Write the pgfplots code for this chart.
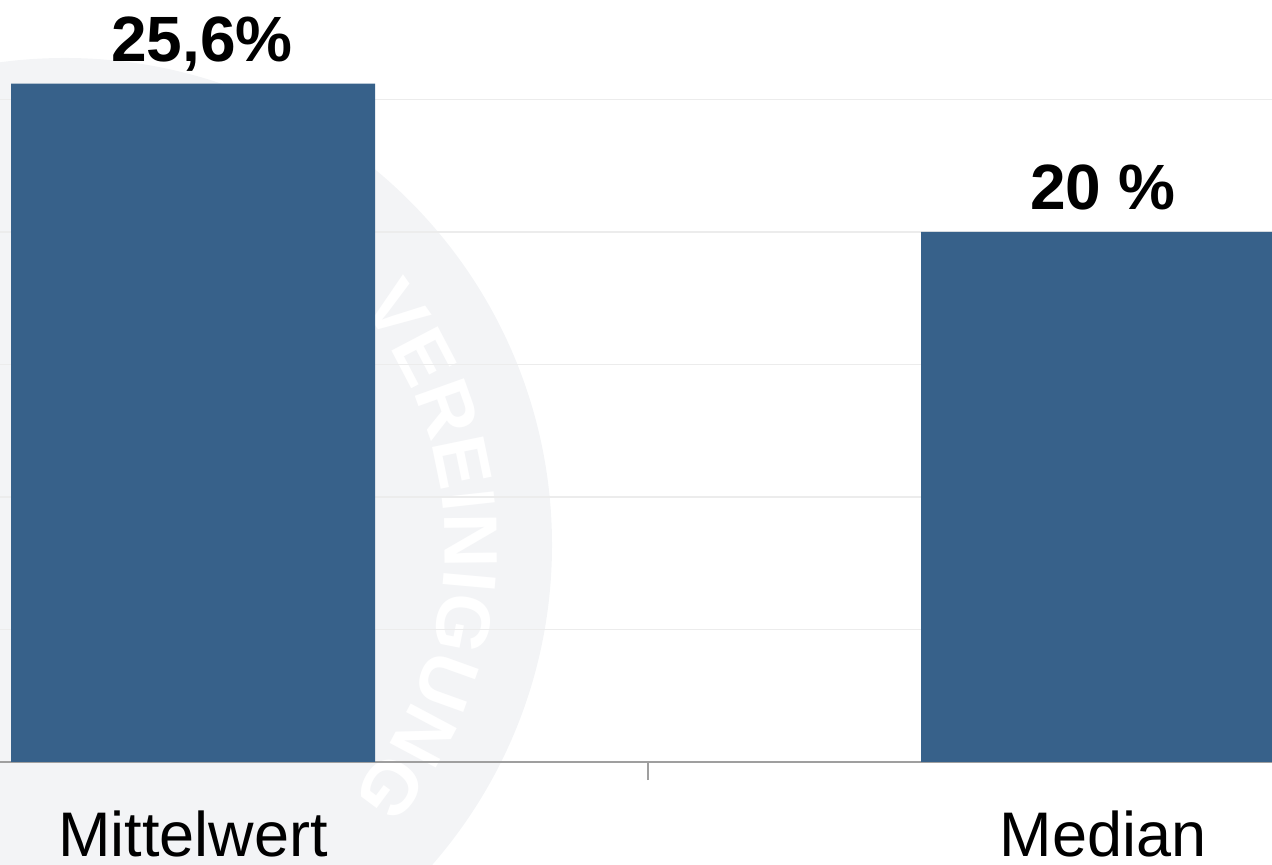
\documentclass[border=0pt]{standalone}
\usepackage{pgfplots}
\pgfplotsset{compat=1.18}
\usetikzlibrary{decorations.text}
\usepackage{fontspec}
\setmainfont{Liberation Sans}
\definecolor{barblue}{RGB}{55,97,138}
\definecolor{wmgray}{RGB}{243,244,246}
\definecolor{gridgray}{RGB}{236,236,236}
\begin{document}
\begin{tikzpicture}
\begin{scope}
\clip (0pt,-51.5pt) rectangle (636pt,381pt);
\fill[wmgray] (32.5pt,108.5pt) circle (243.5pt);
\path[decorate, decoration={text along path, text align=center,
  text={|\bfseries\fontsize{38}{38}\selectfont\color{white}|VEREINIGUNG}}]
  (32.5pt,108.5pt) ++(42:190pt) arc (42:-44:190pt);
\end{scope}
\begin{axis}[
  name=ax,
  scale only axis,
  width=636pt, height=381pt,
  xmin=-0.21209, xmax=1.18571,
  ymin=0, ymax=28.755,
  axis x line*=bottom,
  axis y line*=left,
  y axis line style={draw=none},
  x axis line style={draw=gray!75, line width=0.8pt},
  ytick={5,10,15,20,25},
  yticklabels={},
  ytick style={draw=none},
  ymajorgrids,
  grid style={draw=gridgray, line width=0.8pt},
  xtick={0,1},
  xticklabels={Mittelwert,Median},
  xtick style={draw=none},
  tick align=outside,
  extra x ticks={0.5},
  extra x tick labels={},
  extra x tick style={xtick style={draw=gray!75, line width=0.8pt}, major tick length=9pt},
  xticklabel style={font=\fontsize{31.5}{36}\selectfont, anchor=base, yshift=-43pt},
  ybar,
  bar width=182pt,
  nodes near coords,
  point meta=explicit symbolic,
  every node near coord/.append style={font=\bfseries\fontsize{32}{36}\selectfont, anchor=base, yshift=11pt, black},
]
\addplot[fill=barblue, draw=none] coordinates {(0,25.6) [\hspace*{9pt}25,6\%] (1,20) [20 \%]};
\end{axis}
\pgfresetboundingbox
\useasboundingbox (0pt,-51.5pt) rectangle (636pt,381pt);
\end{tikzpicture}
\end{document}
